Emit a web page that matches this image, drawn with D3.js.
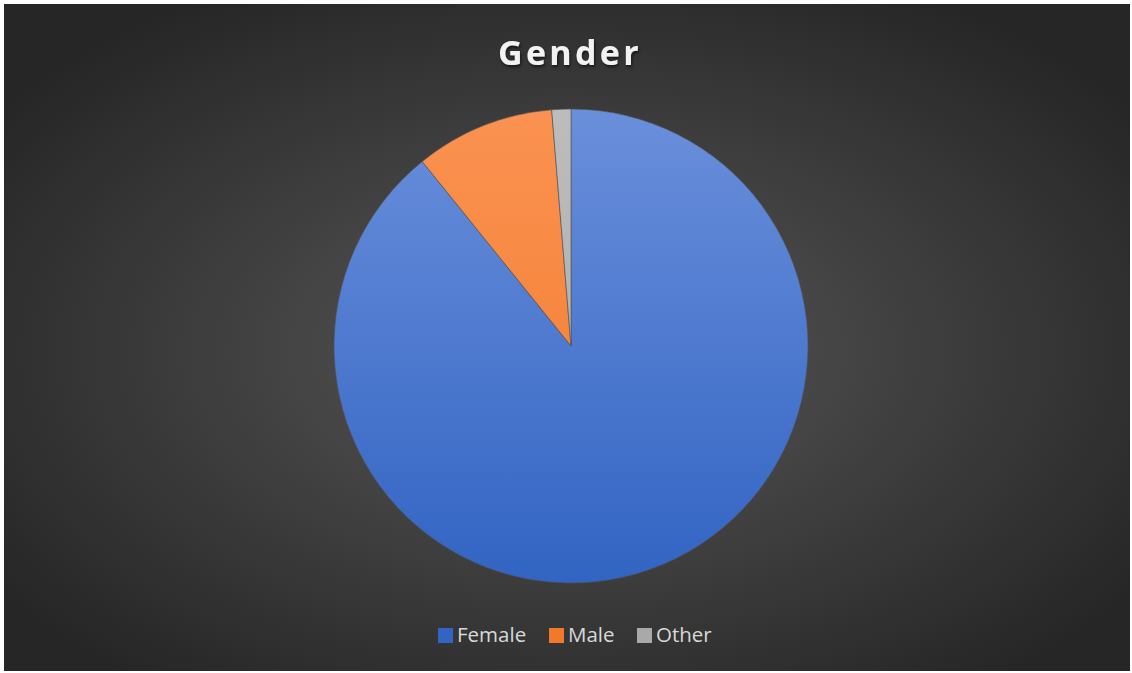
<!DOCTYPE html>
<html>
<head>
<meta charset="utf-8">
<script src="https://cdn.jsdelivr.net/npm/d3@7"></script>
<style>
  body { margin: 0; background: #ffffff; }
  svg { display: block; }
</style>
</head>
<body>
<script>
// chart data
const categories = ["Female", "Male", "Other"];
const values = [89.2, 9.5, 1.3];
const colorsTop = ["#6a8fdb", "#fb9251", "#bcbcbc"];
const colorsBottom = ["#3264c3", "#f07a2a", "#a9a9a9"];

function drawChart() {
	let width = 1132,
		height = 673;

	let svg = d3
		.select("body")
		.append("svg")
		.attr("width", width)
		.attr("height", height);

	let defs = svg.append("defs");

	// dark radial background
	let bg = defs.append("radialGradient")
		.attr("id", "bg")
		.attr("cx", "50%").attr("cy", "52%").attr("r", "62%");
	bg.append("stop").attr("offset", "0%").attr("stop-color", "#585858");
	bg.append("stop").attr("offset", "100%").attr("stop-color", "#262626");

	svg.append("rect")
		.attr("x", 4).attr("y", 4)
		.attr("width", width - 6).attr("height", height - 6)
		.attr("fill", "url(#bg)");

	// slice gradients (light on top)
	categories.forEach((c, i) => {
		let g = defs.append("linearGradient")
			.attr("id", "grad" + i)
			.attr("gradientUnits", "userSpaceOnUse")
			.attr("x1", 0).attr("y1", -237).attr("x2", 0).attr("y2", 237);
		g.append("stop").attr("offset", "0%").attr("stop-color", colorsTop[i]);
		g.append("stop").attr("offset", "100%").attr("stop-color", colorsBottom[i]);
	});

	let shadow = defs.append("filter").attr("id", "shadow")
		.attr("x", "-10%").attr("y", "-10%").attr("width", "120%").attr("height", "130%");
	shadow.append("feDropShadow")
		.attr("dx", 1).attr("dy", 2).attr("stdDeviation", 1.5)
		.attr("flood-color", "#000").attr("flood-opacity", 0.6);

	// title
	svg.append("text")
		.attr("x", 570)
		.attr("y", 65)
		.attr("text-anchor", "middle")
		.attr("font-family", "'Open Sans', sans-serif")
		.attr("font-weight", "bold")
		.attr("font-size", 34)
		.attr("letter-spacing", 3.3)
		.attr("fill", "#f2f2f2")
		.attr("filter", "url(#shadow)")
		.text("Gender");

	// pie
	let radius = 237;
	let pie = d3.pie().sort(null).value((d) => d.value);
	let arc = d3.arc().innerRadius(0).outerRadius(radius);
	let data = categories.map((c, i) => ({ name: c, value: values[i], i: i }));

	let g = svg.append("g").attr("transform", "translate(571,346)");
	g.selectAll("path")
		.data(pie(data))
		.enter()
		.append("path")
		.attr("d", arc)
		.attr("fill", (d) => "url(#grad" + d.data.i + ")")
		.attr("stroke", "#505050")
		.attr("stroke-width", 0.6);

	// legend
	let legendX = [438, 549, 637];
	let legend = svg.append("g");
	let item = legend.selectAll("g")
		.data(data)
		.enter()
		.append("g")
		.attr("transform", (d, i) => "translate(" + legendX[i] + ",628)");
	item.append("rect")
		.attr("width", 15).attr("height", 15)
		.attr("fill", (d) => colorsBottom[d.i]);
	item.append("text")
		.attr("x", 19)
		.attr("y", 14)
		.attr("font-family", "'Open Sans', sans-serif")
		.attr("font-size", 20.5)
		.attr("fill", "#d9d9d9")
		.text((d) => d.name);
}

window.addEventListener("load", drawChart);
</script>
</body>
</html>
